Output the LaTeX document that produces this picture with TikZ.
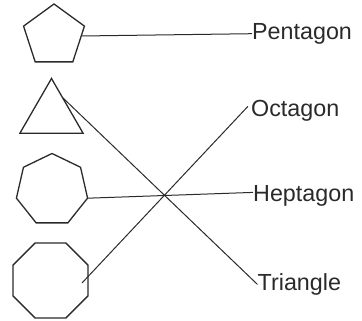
\documentclass[tikz,border=0pt]{standalone}
\usepackage{fontspec}
\setmainfont{Liberation Sans}
\usetikzlibrary{shapes.geometric}
\definecolor{ink}{HTML}{2A2A2A}
\tikzset{
  poly/.style={draw=ink, line width=1.3pt, regular polygon, inner sep=0pt, outer sep=0pt},
  lbl/.style={anchor=base west, inner sep=0pt, font=\fontsize{23.3}{26}\selectfont, text=ink},
  conn/.style={draw=ink, line width=1pt}
}
\begin{document}
\begin{tikzpicture}[x=1pt,y=-1pt]
\useasboundingbox (0,0) rectangle (362,321);
\node[poly, regular polygon sides=5, minimum size=64pt] (pent) at (54,36) {};
\node[poly, regular polygon sides=3, minimum size=73pt] (tri) at (51.5,115) {};
\node[poly, regular polygon sides=7, minimum size=73pt] (hept) at (52,190) {};
\node[poly, regular polygon sides=8, minimum size=81pt] (oct) at (50.5,280.5) {};
\coordinate (octend) at (82,283);
\node[lbl] (ptext) at (252,39.3) {Pentagon};
\node[lbl] (otext) at (251,117) {Octagon};
\node[lbl] (htext) at (253,201.5) {Heptagon};
\node[lbl] (ttext) at (257.5,290.5) {Triangle};
\draw[conn] (pent.east) -- (ptext.west);
\draw[conn] (tri.58) -- (ttext.west);
\draw[conn] (hept.-13) -- ([yshift=3.5pt]htext.west);
\draw[conn] (octend) -- ([yshift=5pt,xshift=-3pt]otext.west);
\end{tikzpicture}
\end{document}
